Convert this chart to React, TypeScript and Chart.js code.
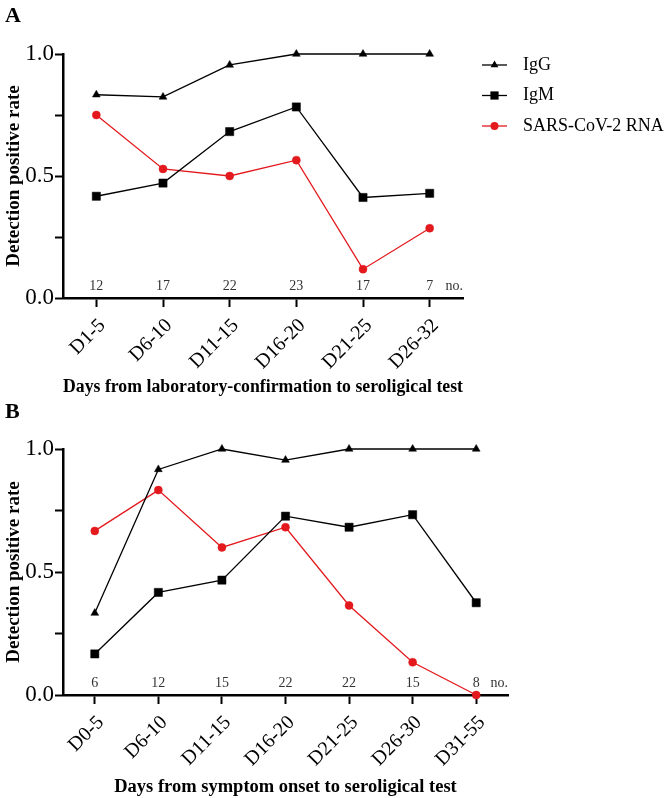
import React, { useEffect, useRef } from 'react';
import { Chart, registerables } from 'chart.js';

Chart.register(...registerables);

const SERIF = "'Liberation Serif', 'Times New Roman', Times, serif";

// ---- Panel A data ----
const labelsA = ['D1-5', 'D6-10', 'D11-15', 'D16-20', 'D21-25', 'D26-32'];
const igGA = [0.833, 0.824, 0.955, 1.0, 1.0, 1.0];
const igMA = [0.417, 0.471, 0.682, 0.783, 0.412, 0.429];
const rnaA = [0.75, 0.529, 0.5, 0.565, 0.118, 0.286];
const countsA = [12, 17, 22, 23, 17, 7];
const titleA = 'Days from laboratory-confirmation to seroligical test';

// ---- Panel B data ----
const labelsB = ['D0-5', 'D6-10', 'D11-15', 'D16-20', 'D21-25', 'D26-30', 'D31-55'];
const igGB = [0.333, 0.917, 1.0, 0.955, 1.0, 1.0, 1.0];
const igMB = [0.167, 0.417, 0.467, 0.727, 0.682, 0.733, 0.375];
const rnaB = [0.667, 0.833, 0.6, 0.682, 0.364, 0.133, 0.0];
const countsB = [6, 12, 15, 22, 22, 15, 8];
const titleB = 'Days from symptom onset to seroligical test';

const seriesNames = ['IgG', 'IgM', 'SARS-CoV-2 RNA'];
const seriesColors = ['#000000', '#000000', '#e3191d'];
const seriesStyles = ['triangle', 'rect', 'circle'];
const yTitle = 'Detection positive rate';

function drawMarker(ctx: CanvasRenderingContext2D, style: string, x: number, y: number, r: number, color: string) {
  ctx.fillStyle = color;
  ctx.beginPath();
  if (style === 'triangle') {
    let rad = 0;
    ctx.moveTo(x + Math.sin(rad) * r, y - Math.cos(rad) * r);
    rad += (2 * Math.PI) / 3;
    ctx.lineTo(x + Math.sin(rad) * r, y - Math.cos(rad) * r);
    rad += (2 * Math.PI) / 3;
    ctx.lineTo(x + Math.sin(rad) * r, y - Math.cos(rad) * r);
    ctx.closePath();
  } else if (style === 'rect') {
    const s = Math.SQRT1_2 * r;
    ctx.rect(x - s, y - s, 2 * s, 2 * s);
  } else {
    ctx.arc(x, y, r, 0, Math.PI * 2);
  }
  ctx.fill();
}

const decorPlugin = {
  id: 'decor',
  afterDraw(chart: any, _args: any, opts: any) {
    const ctx: CanvasRenderingContext2D = chart.ctx;
    const xs = chart.scales.x;
    const area = chart.chartArea;
    ctx.save();
    // panel letter
    ctx.font = `bold 22px ${SERIF}`;
    ctx.fillStyle = '#000';
    ctx.textAlign = 'left';
    ctx.textBaseline = 'alphabetic';
    ctx.fillText(opts.letter, opts.letterX, opts.letterY);
    // sample counts
    ctx.font = `14px ${SERIF}`;
    ctx.fillStyle = '#333';
    ctx.textAlign = 'center';
    ctx.textBaseline = 'middle';
    const cy = area.bottom - 11.5;
    (opts.counts as number[]).forEach((c, i) => {
      ctx.fillText(String(c), xs.getPixelForValue(i), cy);
    });
    ctx.textAlign = 'right';
    ctx.fillText('no.', area.right, cy);
    // legend
    if (opts.legend) {
      chart.data.datasets.forEach((ds: any, i: number) => {
        const y = opts.legendY + i * 30.5;
        const lx = opts.legendX;
        ctx.strokeStyle = ds.borderColor;
        ctx.lineWidth = 1.3;
        ctx.beginPath();
        ctx.moveTo(lx, y);
        ctx.lineTo(lx + 25, y);
        ctx.stroke();
        drawMarker(ctx, ds.pointStyle, lx + 12.5, y, ds.pointRadius, ds.borderColor);
        ctx.font = `18px ${SERIF}`;
        ctx.fillStyle = '#000';
        ctx.textAlign = 'left';
        ctx.textBaseline = 'middle';
        ctx.fillText(ds.label, lx + 41, y);
      });
    }
    ctx.restore();
  },
};

function makeConfig(p: any): any {
  const sets = [p.igG, p.igM, p.rna];
  const radii = [4.5, 5.8, 4];
  return {
    type: 'line',
    data: {
      labels: p.labels,
      datasets: sets.map((d: number[], i: number) => ({
        label: seriesNames[i],
        data: d,
        borderColor: seriesColors[i],
        backgroundColor: seriesColors[i],
        pointBackgroundColor: seriesColors[i],
        pointBorderColor: seriesColors[i],
        pointStyle: seriesStyles[i],
        pointRadius: radii[i],
        pointBorderWidth: 0.5,
        borderWidth: 1.3,
        tension: 0,
        clip: false,
      })),
    },
    options: {
      responsive: false,
      animation: false,
      devicePixelRatio: 1,
      events: [],
      layout: { padding: { top: p.padTop, right: p.padRight, bottom: p.padBottom, left: 0 } },
      plugins: {
        legend: { display: false },
        tooltip: { enabled: false },
        decor: {
          letter: p.letter,
          letterX: 5,
          letterY: p.letterY,
          counts: p.counts,
          legend: p.legend,
          legendX: 482,
          legendY: 65,
        },
      },
      scales: {
        x: {
          type: 'category',
          offset: true,
          grid: {
            offset: false,
            drawOnChartArea: false,
            drawTicks: true,
            tickLength: 9,
            tickWidth: 2,
            color: '#000',
          },
          border: { display: true, width: 2.5, color: '#000' },
          ticks: {
            font: { family: SERIF, size: 20 },
            color: '#000',
            minRotation: 45,
            maxRotation: 45,
            autoSkip: false,
            padding: 7,
            labelOffset: 6,
          },
          title: {
            display: true,
            text: p.xTitle,
            font: { family: SERIF, size: 18.5, weight: 'bold' },
            color: '#000',
            padding: { top: 4, bottom: 0 },
          },
          afterFit: (s: any) => {
            s.height = p.xHeight;
          },
        },
        y: {
          min: 0,
          max: 1,
          grid: {
            drawOnChartArea: false,
            drawTicks: true,
            tickLength: 8,
            tickWidth: 2,
            color: '#000',
          },
          border: { display: true, width: 2.5, color: '#000' },
          ticks: {
            stepSize: 0.25,
            font: { family: SERIF, size: 23 },
            color: '#000',
            padding: 1,
            callback: (v: number) => (Math.abs(v * 2 - Math.round(v * 2)) < 1e-6 ? Number(v).toFixed(1) : ''),
          },
          title: {
            display: true,
            text: yTitle,
            font: { family: SERIF, size: 19, weight: 'bold' },
            color: '#000',
            padding: { top: 3, bottom: 3 },
          },
          afterFit: (s: any) => {
            s.width = 63;
          },
        },
      },
    },
    plugins: [decorPlugin],
  };
}

function Panel(props: any) {
  const ref = useRef<HTMLCanvasElement | null>(null);
  useEffect(() => {
    if (!ref.current) return;
    const chart = new Chart(ref.current, makeConfig(props.cfg));
    return () => chart.destroy();
  }, []);
  return (
    <canvas
      ref={ref}
      width={670}
      height={props.height}
      style={{ position: 'absolute', left: 0, top: props.top, width: 670, height: props.height, display: 'block' }}
    />
  );
}

export default function App() {
  return (
    <div style={{ position: 'fixed', left: 0, top: 0, width: 670, height: 798, background: '#fff', overflow: 'hidden' }}>
      <Panel
        top={0}
        height={398}
        cfg={{
          labels: labelsA,
          igG: igGA,
          igM: igMA,
          rna: rnaA,
          counts: countsA,
          xTitle: titleA,
          letter: 'A',
          letterY: 22,
          legend: true,
          padTop: 54,
          padRight: 207,
          padBottom: 0,
          xHeight: 100,
        }}
      />
      <Panel
        top={398}
        height={400}
        cfg={{
          labels: labelsB,
          igG: igGB,
          igM: igMB,
          rna: rnaB,
          counts: countsB,
          xTitle: titleB,
          letter: 'B',
          letterY: 20,
          legend: false,
          padTop: 51,
          padRight: 162,
          padBottom: 0,
          xHeight: 103,
        }}
      />
    </div>
  );
}
